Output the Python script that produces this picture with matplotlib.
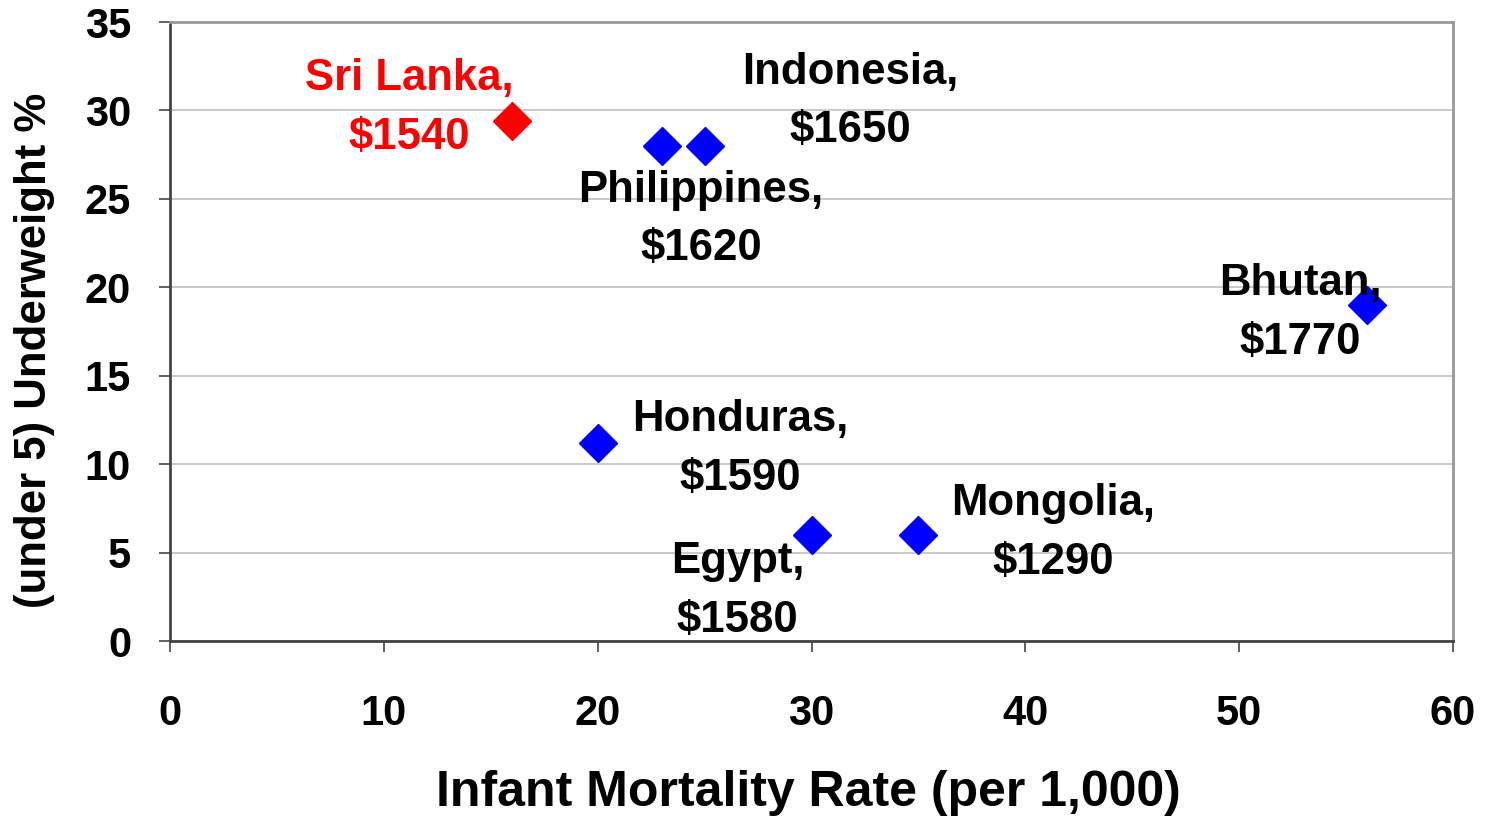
import matplotlib
matplotlib.use("Agg")
import matplotlib.pyplot as plt

plt.rcParams['font.family'] = ['Liberation Sans', 'DejaVu Sans']
plt.rcParams['font.weight'] = 'bold'

countries = ["Sri Lanka", "Philippines", "Indonesia", "Honduras", "Egypt", "Mongolia", "Bhutan"]
gni = ["$1540", "$1620", "$1650", "$1590", "$1580", "$1290", "$1770"]
infant_mortality = [16, 23, 25, 20, 30, 35, 56]
underweight = [29.4, 28, 28, 11.2, 6, 6, 19]
colors = ["#ff0000", "#0000ff", "#0000ff", "#0000ff", "#0000ff", "#0000ff", "#0000ff"]
# label offsets in pixels (label centre relative to point)
label_offsets = [(-103, 13), (39, -74), (146, 44), (143, -6), (-74, -56), (135, 2), (-67, -8)]

x_ticks = [0, 10, 20, 30, 40, 50, 60]
y_ticks = [0, 5, 10, 15, 20, 25, 30, 35]

fig = plt.figure(figsize=(14.85, 8.21), dpi=100)
ax = fig.add_axes([170/1485, 1-641/821, 1283/1485, 619/821])

for xi, yi, c in zip(infant_mortality, underweight, colors):
    ax.plot([xi], [yi], marker='D', markersize=19, color=c, linestyle='none', zorder=3, clip_on=False)

for name, g, xi, yi, c, off in zip(countries, gni, infant_mortality, underweight, colors, label_offsets):
    ax.annotate(f"{name},\n{g}", xy=(xi, yi), xytext=off, textcoords='offset pixels',
                ha='center', va='center', multialignment='center', fontsize=31.5,
                fontweight='bold', color='#ff0000' if c == "#ff0000" else 'black',
                linespacing=1.54, zorder=4)

ax.set_xlim(0, 60)
ax.set_ylim(0, 35)
ax.set_xticks(x_ticks)
ax.set_yticks(y_ticks)
ax.grid(axis='y', color='#c0c0c0', linewidth=1.2)
ax.set_axisbelow(True)

for s in ['top', 'right']:
    ax.spines[s].set_color('#999999')
    ax.spines[s].set_linewidth(2)
for s in ['left', 'bottom']:
    ax.spines[s].set_color('#444444')
    ax.spines[s].set_linewidth(2)

ax.tick_params(axis='x', direction='out', length=8, width=1.2, color='#444444', pad=30, labelsize=30)
ax.tick_params(axis='y', direction='out', length=8, width=1.2, color='#444444', pad=20, labelsize=30)
for lab in ax.get_xticklabels() + ax.get_yticklabels():
    lab.set_fontweight('bold')

ax.set_xlabel("Infant Mortality Rate (per 1,000)", fontsize=36, fontweight='bold', va='center')
ax.xaxis.set_label_coords((808-170)/1283, (641-793)/619)
ax.set_ylabel("(under 5) Underweight %", fontsize=31.5, fontweight='bold', va='center')
ax.yaxis.set_label_coords((35-170)/1283, (641-350)/619)

fig.savefig("out.png", dpi=100)
